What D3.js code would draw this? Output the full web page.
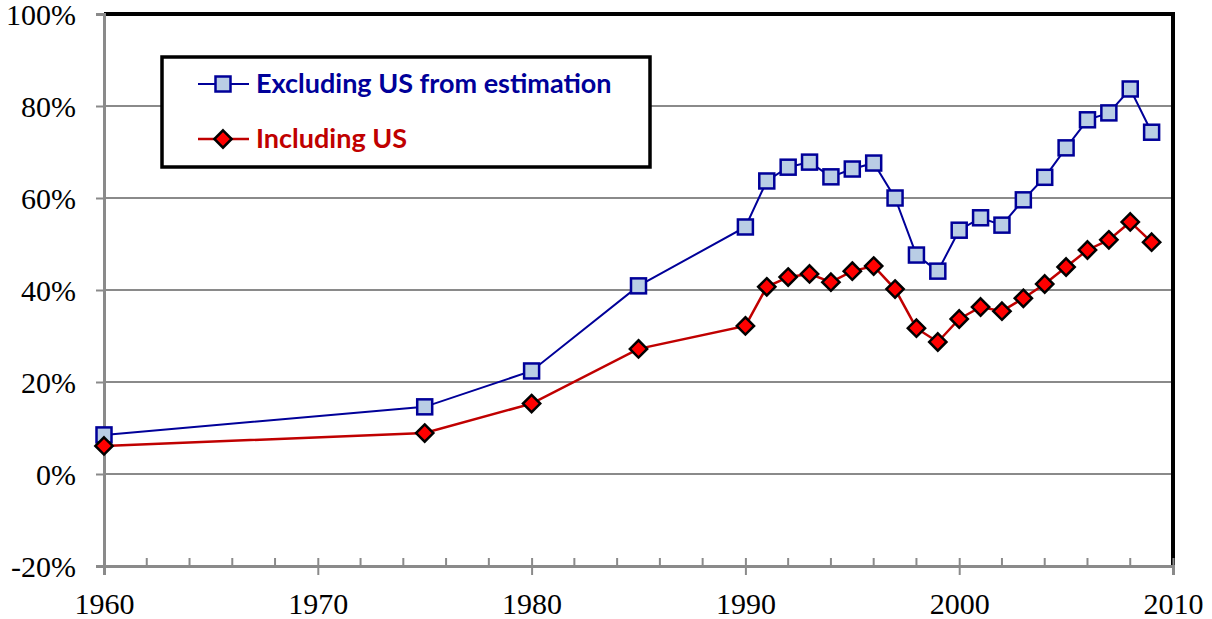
<!DOCTYPE html>
<html>
<head>
	<title>Share estimates, 1960 - 2009</title>
	<style type="text/css">
		body { margin: 0; background: white; }
		#chart { display: block; background: white; }
		.legend-txt { font-family: Lato, "Open Sans", sans-serif; font-weight: bold; font-size: 27px; }
	</style>
</head>
<body>
<svg id="chart"></svg>

<script src="https://d3js.org/d3.v7.min.js"></script>
<script type="text/javascript">
	// data
	var years = [1960, 1975, 1980, 1985, 1990, 1991, 1992, 1993, 1994, 1995, 1996, 1997, 1998, 1999, 2000, 2001, 2002, 2003, 2004, 2005, 2006, 2007, 2008, 2009];
	var excludingUS = [8.5, 14.6, 22.4, 40.9, 53.7, 63.7, 66.7, 67.8, 64.6, 66.3, 67.6, 60.0, 47.6, 44.1, 53.0, 55.7, 54.1, 59.6, 64.5, 70.9, 77.0, 78.5, 83.7, 74.3];
	var includingUS = [6.1, 8.9, 15.3, 27.2, 32.2, 40.7, 42.8, 43.5, 41.7, 44.1, 45.2, 40.2, 31.7, 28.7, 33.7, 36.3, 35.4, 38.2, 41.3, 45.0, 48.7, 50.9, 54.8, 50.4];
	var seriesNames = ["Excluding US from estimation", "Including US"];
	var yTicks = [-20, 0, 20, 40, 60, 80, 100];
	var xTicks = [1960, 1970, 1980, 1990, 2000, 2010];

	var W = 1212, H = 619;
	var margin = {top: 14, right: 39, bottom: 53, left: 104};
	var serif = "'Liberation Serif', 'DejaVu Serif', serif";

	var svg = d3.select("#chart").attr("width", W).attr("height", H);

	var x = d3.scaleLinear().domain([1960, 2010]).range([margin.left, W - margin.right]);
	var y = d3.scaleLinear().domain([-20, 100]).range([H - margin.bottom, margin.top]);

	var grey = "#8a8a8a";

	// gridlines
	svg.append("g").selectAll("line")
		.data(yTicks.filter(d => d > -20 && d < 100))
		.enter().append("line")
		.attr("x1", x(1960)).attr("x2", x(2010))
		.attr("y1", d => y(d)).attr("y2", d => y(d))
		.attr("stroke", grey).attr("stroke-width", 2)

	// plot area border (top and right)
	svg.append("path")
		.attr("d", `M${x(1960)},${y(100)}H${x(2010)}V${y(-20)}`)
		.attr("fill", "none").attr("stroke", "black").attr("stroke-width", 4)

	// y axis
	var yAxis = svg.append("g")
		.attr("transform", `translate(${x(1960)},0)`)
		.call(d3.axisLeft(y).tickValues(yTicks).tickSize(8).tickPadding(20).tickFormat(d => d + "%"))
	yAxis.select(".domain").attr("stroke", grey).attr("stroke-width", 3)
	yAxis.selectAll(".tick line").attr("stroke", grey).attr("stroke-width", 2)
	yAxis.selectAll(".tick text").attr("dy", "0.36em")
		.style("font-family", serif).style("font-size", "30px").attr("fill", "black")

	// x axis: minor ticks every 2 years, major ticks every 10
	var minorYears = d3.range(1962, 2010, 2).filter(d => d % 10 !== 0)
	svg.append("g").selectAll("line")
		.data(minorYears)
		.enter().append("line")
		.attr("x1", d => x(d)).attr("x2", d => x(d))
		.attr("y1", y(-20) - 8).attr("y2", y(-20))
		.attr("stroke", grey).attr("stroke-width", 2)

	var xAxis = svg.append("g")
		.attr("transform", `translate(0,${y(-20)})`)
		.call(d3.axisBottom(x).tickValues(xTicks).tickSize(9).tickPadding(18).tickFormat(d3.format("d")))
	xAxis.select(".domain").attr("stroke", grey).attr("stroke-width", 3)
	xAxis.selectAll(".tick line").attr("stroke", grey).attr("stroke-width", 2).attr("y1", -8)
	xAxis.selectAll(".tick text").attr("dy", "0.71em")
		.style("font-family", serif).style("font-size", "30px").attr("fill", "black")

	var blue = "#000099", red = "#c00000";
	var line = d3.line().x(d => x(d[0])).y(d => y(d[1]))
	var exData = years.map((yr, i) => [yr, excludingUS[i]])
	var inData = years.map((yr, i) => [yr, includingUS[i]])

	svg.append("path").datum(exData).attr("d", line)
		.attr("fill", "none").attr("stroke", blue).attr("stroke-width", 2)
	svg.append("path").datum(inData).attr("d", line)
		.attr("fill", "none").attr("stroke", red).attr("stroke-width", 2.5)

	var sq = 15;
	var diamond = d3.symbol().type(d3.symbolDiamond2).size(190)

	svg.append("g").selectAll("rect").data(exData)
		.enter().append("rect")
		.attr("x", d => x(d[0]) - sq / 2).attr("y", d => y(d[1]) - sq / 2)
		.attr("width", sq).attr("height", sq)
		.attr("fill", "#b9cde5").attr("stroke", blue).attr("stroke-width", 2.5)

	svg.append("g").selectAll("path").data(inData)
		.enter().append("path")
		.attr("d", diamond)
		.attr("transform", d => `translate(${x(d[0])},${y(d[1])})`)
		.attr("fill", "#ff0000").attr("stroke", "black").attr("stroke-width", 2.5)

	// legend
	var lg = svg.append("g")
	lg.append("rect")
		.attr("x", 162).attr("y", 57).attr("width", 488).attr("height", 110)
		.attr("fill", "white").attr("stroke", "black").attr("stroke-width", 3.5)

	var legendRows = [
		{name: seriesNames[0], color: blue, y: 84},
		{name: seriesNames[1], color: red, y: 139}
	]
	legendRows.forEach(function(r, i) {
		lg.append("line")
			.attr("x1", 198).attr("x2", 249).attr("y1", r.y).attr("y2", r.y)
			.attr("stroke", r.color).attr("stroke-width", i ? 2.5 : 2)
		if (i === 0) {
			lg.append("rect").attr("x", 223 - sq / 2).attr("y", r.y - sq / 2)
				.attr("width", sq).attr("height", sq)
				.attr("fill", "#b9cde5").attr("stroke", blue).attr("stroke-width", 2.5)
		} else {
			lg.append("path").attr("d", diamond).attr("transform", `translate(223,${r.y})`)
				.attr("fill", "#ff0000").attr("stroke", "black").attr("stroke-width", 2.5)
		}
		lg.append("text")
			.attr("class", "legend-txt")
			.attr("x", 256).attr("y", r.y + 9)
			.attr("fill", r.color)
			.text(r.name)
	})
</script>
</body>
</html>
